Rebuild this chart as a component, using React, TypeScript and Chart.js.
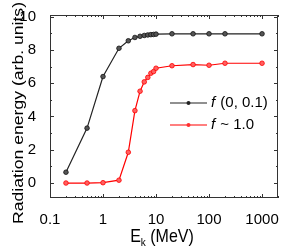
import React, { useEffect, useRef } from "react";
import { Chart, registerables } from "chart.js";

Chart.register(...registerables);

const energies = [0.2, 0.5, 1, 2, 3, 4, 5, 6, 7, 8, 9, 10, 20, 50, 100, 200, 1000];
const blackValues = [0.65, 3.3, 6.4, 8.1, 8.55, 8.75, 8.82, 8.87, 8.9, 8.92, 8.93, 8.95, 8.97, 8.97, 8.97, 8.97, 8.97];
const redValues = [0.0, 0.0, 0.02, 0.17, 1.85, 4.35, 5.52, 6.08, 6.35, 6.6, 6.7, 6.9, 7.05, 7.12, 7.08, 7.2, 7.2];
const xTickValues = [0.1, 1, 10, 100, 1000];
const yTickValues = [0, 2, 4, 6, 8, 10];
const legendLabels = ["(0, 0.1)", "~ 1.0"];
const yTitle = "Radiation energy (arb. units)";
const FONT = "'Liberation Sans', Arial, sans-serif";

const framePlugin = {
  id: "frameAndExtras",
  afterDraw(chart: any) {
    const { ctx, chartArea } = chart;
    const { left, right, top, bottom } = chartArea;
    const xs = chart.scales.x;
    const ys = chart.scales.y;
    ctx.save();
    ctx.strokeStyle = "#333";
    ctx.lineWidth = 1;
    ctx.strokeRect(left + 0.5, top + 0.5, right - left - 1, bottom - top - 1);
    // x ticks
    ctx.beginPath();
    for (let d = 0.1; d <= 1000.5; d *= 10) {
      for (let m = 1; m <= 9; m++) {
        const v = d * m;
        if (v > 2000) continue;
        const px = Math.round(xs.getPixelForValue(v)) + 0.5;
        const len = m === 1 ? 4 : 2;
        ctx.moveTo(px, bottom);
        ctx.lineTo(px, bottom - len);
        ctx.moveTo(px, top);
        ctx.lineTo(px, top + len);
      }
    }
    // y ticks
    for (let v = 0; v <= 10; v++) {
      const py = Math.round(ys.getPixelForValue(v)) + 0.5;
      const len = v % 2 === 0 ? 4 : 2;
      ctx.moveTo(left, py);
      ctx.lineTo(left + len, py);
      ctx.moveTo(right, py);
      ctx.lineTo(right - len, py);
    }
    ctx.stroke();

    // legend
    const colors = ["#222222", "#ff0000"];
    const fills = ["#222222", "#ff3030"];
    const legendY = [103, 125];
    for (let i = 0; i < 2; i++) {
      const y = legendY[i];
      ctx.strokeStyle = colors[i];
      ctx.lineWidth = 1.2;
      ctx.beginPath();
      ctx.moveTo(170, y);
      ctx.lineTo(207, y);
      ctx.stroke();
      ctx.beginPath();
      ctx.fillStyle = fills[i];
      ctx.arc(188.5, y, 2, 0, Math.PI * 2);
      ctx.fill();
      ctx.fillStyle = "#000";
      ctx.textBaseline = "middle";
      ctx.textAlign = "left";
      ctx.font = `italic 15px ${FONT}`;
      ctx.fillText("f", 211, y);
      const fw = ctx.measureText("f").width;
      ctx.font = `15px ${FONT}`;
      ctx.fillText(" " + legendLabels[i], 211 + fw + 1, y);
    }

    // x title E_k (MeV), slightly stretched vertically like the reference
    ctx.fillStyle = "#000";
    ctx.textBaseline = "alphabetic";
    ctx.textAlign = "left";
    ctx.font = `16px ${FONT}`;
    const eW = ctx.measureText("E").width;
    ctx.font = `10px ${FONT}`;
    const kW = ctx.measureText("k").width;
    ctx.font = `16px ${FONT}`;
    const restW = ctx.measureText(" (MeV)").width;
    const total = eW + kW + restW;
    const cx = 162;
    const x0 = cx - total / 2;
    ctx.save();
    ctx.translate(0, 242);
    ctx.scale(1, 1.18);
    ctx.fillText("E", x0, 0);
    ctx.font = `10px ${FONT}`;
    ctx.fillText("k", x0 + eW, 3);
    ctx.font = `16px ${FONT}`;
    ctx.fillText(" (MeV)", x0 + eW + kW, 0);
    ctx.restore();

    // y title, stretched along its length like the reference
    ctx.save();
    ctx.font = `14px ${FONT}`;
    const tw = ctx.measureText(yTitle).width;
    const targetLen = 222;
    ctx.translate(22.5, 113);
    ctx.rotate(-Math.PI / 2);
    ctx.scale(targetLen / tw, 1);
    ctx.textAlign = "center";
    ctx.textBaseline = "alphabetic";
    ctx.fillStyle = "#000";
    ctx.fillText(yTitle, 0, 0);
    ctx.restore();
    ctx.restore();
  },
};

export default function App() {
  const ref = useRef<HTMLCanvasElement>(null);
  useEffect(() => {
    if (!ref.current) return;
    const chart = new Chart(ref.current, {
      type: "line",
      data: {
        datasets: [
          {
            label: "f (0, 0.1)",
            data: energies.map((x, i) => ({ x, y: blackValues[i] })),
            borderColor: "#222222",
            backgroundColor: "#444444",
            borderWidth: 1.2,
            pointRadius: 2.3,
            pointBorderWidth: 0.8,
            pointBorderColor: "#111111",
            pointBackgroundColor: "#555555",
            tension: 0,
          },
          {
            label: "f ~ 1.0",
            data: energies.map((x, i) => ({ x, y: redValues[i] })),
            borderColor: "#ff0000",
            backgroundColor: "#ff6060",
            borderWidth: 1.2,
            pointRadius: 2.3,
            pointBorderWidth: 0.8,
            pointBorderColor: "#ff0000",
            pointBackgroundColor: "#ff6060",
            tension: 0,
          },
        ],
      },
      options: {
        responsive: false,
        animation: false,
        layout: { padding: { top: 15, right: 9, left: 0, bottom: 0 } },
        plugins: { legend: { display: false }, tooltip: { enabled: false } },
        scales: {
          x: {
            type: "logarithmic",
            min: 0.1,
            max: 2000,
            grid: { display: false },
            border: { display: false },
            afterBuildTicks: (s: any) => {
              s.ticks = xTickValues.map((v) => ({ value: v }));
            },
            afterFit: (s: any) => {
              s.height = 51;
            },
            ticks: {
              autoSkip: false,
              maxRotation: 0,
              padding: 5,
              color: "#000",
              font: { family: FONT, size: 15 },
              callback: (v: any) => String(v),
            },
          },
          y: {
            type: "linear",
            min: -0.9,
            max: 10.1,
            grid: { display: false },
            border: { display: false },
            afterBuildTicks: (s: any) => {
              s.ticks = yTickValues.map((v) => ({ value: v }));
            },
            afterFit: (s: any) => {
              s.width = 50;
            },
            ticks: {
              padding: 6,
              color: "#000",
              font: { family: FONT, size: 15 },
            },
          },
        },
      },
      plugins: [framePlugin],
    });
    return () => chart.destroy();
  }, []);
  return (
    <div style={{ position: "fixed", left: 0, top: 0, width: 287, height: 249, background: "#fff" }}>
      <canvas ref={ref} width={287} height={249} />
    </div>
  );
}
